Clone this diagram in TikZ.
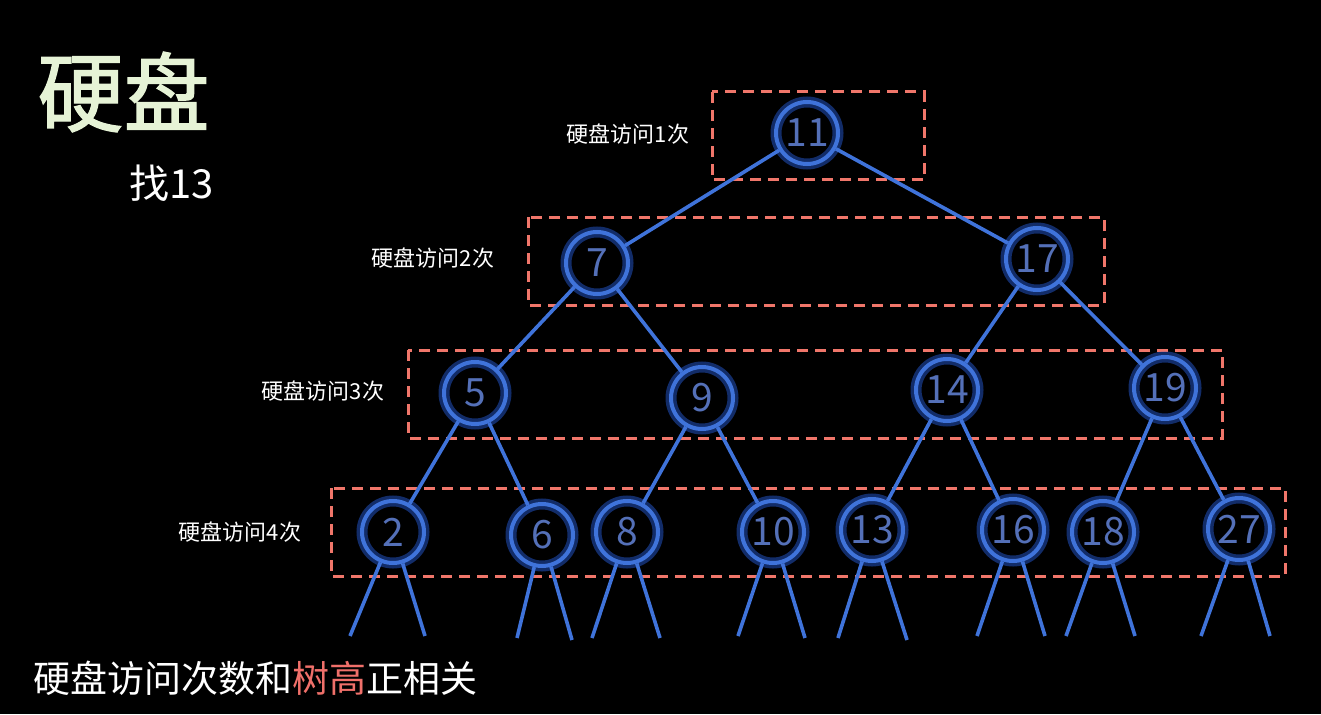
\documentclass[tikz,border=0pt]{standalone}
\usepackage{fontspec}
\setmainfont{Noto Sans CJK SC}
\newfontfamily\cjkb{Noto Sans CJK SC}[FakeBold=1.5]
\definecolor{nodeblue}{HTML}{3F73DA}
\definecolor{glowblue}{HTML}{2458D0}
\definecolor{numblue}{HTML}{5470B8}
\definecolor{dashred}{HTML}{F0766A}
\definecolor{titlegreen}{HTML}{E6F3D6}
\definecolor{hlred}{HTML}{F0706A}
\begin{document}
\begin{tikzpicture}[x=1pt,y=-1pt,
  treenode/.style={circle, draw=nodeblue, line width=4pt, minimum size=62pt, inner sep=0pt,
    text=numblue, font=\fontsize{39}{39}\selectfont,
    preaction={draw=glowblue, line width=11pt, opacity=0.5}},
  edge/.style={draw=nodeblue, line width=3.6pt},
  levelbox/.style={draw=dashred, line width=3pt, dash pattern=on 11pt off 7pt},
  lvl/.style={text=white, font=\fontsize{22}{22}\selectfont, anchor=center}
]
\fill[black] (0,0) rectangle (1321,714);
\useasboundingbox (0,0) rectangle (1321,714);

% dashed level boxes
\draw[levelbox] (712,92) rectangle (924,180);
\draw[levelbox] (528,217) rectangle (1104,305);
\draw[levelbox] (408,350) rectangle (1222,438);
\draw[levelbox] (331,488) rectangle (1285,576);

% labels
\node[text=titlegreen, font=\cjkb\fontsize{86}{86}\selectfont, anchor=west] (title) at (34,92) {硬盘};
\node[text=white, font=\fontsize{40}{40}\selectfont, anchor=west] (find) at (126,183) {找13};
\node[lvl] (l1) at (628,134) {硬盘访问1次};
\node[lvl] (l2) at (433,258) {硬盘访问2次};
\node[lvl] (l3) at (323,391) {硬盘访问3次};
\node[lvl] (l4) at (240,532) {硬盘访问4次};
\node[text=white, font=\fontsize{37}{37}\selectfont, anchor=west] (bottom) at (30,678) {硬盘访问次数和\textcolor{hlred}{树高}正相关};

% node positions
\coordinate (p11) at (807,133);
\coordinate (p7) at (597,263);
\coordinate (p17) at (1037,259);
\coordinate (p5) at (475,393);
\coordinate (p9) at (702,398);
\coordinate (p14) at (947,390);
\coordinate (p19) at (1165,388);
\coordinate (p2) at (393,532);
\coordinate (p6) at (542,535);
\coordinate (p8) at (627,532);
\coordinate (p10) at (773,532);
\coordinate (p13) at (872,530);
\coordinate (p16) at (1013,530);
\coordinate (p18) at (1103,532);
\coordinate (p27) at (1239,529);

% edges first (under nodes)
\coordinate (e2a) at (350,636); \coordinate (e2b) at (425,636);
\coordinate (e6a) at (517,638); \coordinate (e6b) at (572,640);
\coordinate (e8a) at (592,638); \coordinate (e8b) at (660,638);
\coordinate (e10a) at (738,636); \coordinate (e10b) at (805,638);
\coordinate (e13a) at (838,638); \coordinate (e13b) at (907,640);
\coordinate (e16a) at (977,636); \coordinate (e16b) at (1045,636);
\coordinate (e18a) at (1066,636); \coordinate (e18b) at (1135,636);
\coordinate (e27a) at (1201,636); \coordinate (e27b) at (1270,636);

% nodes
\node[treenode] (n11) at (p11) {11};
\node[treenode] (n7) at (p7) {7};
\node[treenode] (n17) at (p17) {17};
\node[treenode] (n5) at (p5) {5};
\node[treenode] (n9) at (p9) {9};
\node[treenode] (n14) at (p14) {14};
\node[treenode] (n19) at (p19) {19};
\node[treenode] (n2) at (p2) {2};
\node[treenode] (n6) at (p6) {6};
\node[treenode] (n8) at (p8) {8};
\node[treenode] (n10) at (p10) {10};
\node[treenode] (n13) at (p13) {13};
\node[treenode] (n16) at (p16) {16};
\node[treenode] (n18) at (p18) {18};
\node[treenode] (n27) at (p27) {27};

% edges
\draw[edge] (n11) -- (n7);
\draw[edge] (n11) -- (n17);
\draw[edge] (n7) -- (n5);
\draw[edge] (n7) -- (n9);
\draw[edge] (n17) -- (n14);
\draw[edge] (n17) -- (n19);
\draw[edge] (n5) -- (n2);
\draw[edge] (n5) -- (n6);
\draw[edge] (n9) -- (n8);
\draw[edge] (n9) -- (n10);
\draw[edge] (n14) -- (n13);
\draw[edge] (n14) -- (n16);
\draw[edge] (n19) -- (n18);
\draw[edge] (n19) -- (n27);

% leaf stubs
\foreach \n in {2,6,8,10,13,16,18,27}{
  \draw[edge] (n\n) -- (e\n a);
  \draw[edge] (n\n) -- (e\n b);
}
\end{tikzpicture}
\end{document}
